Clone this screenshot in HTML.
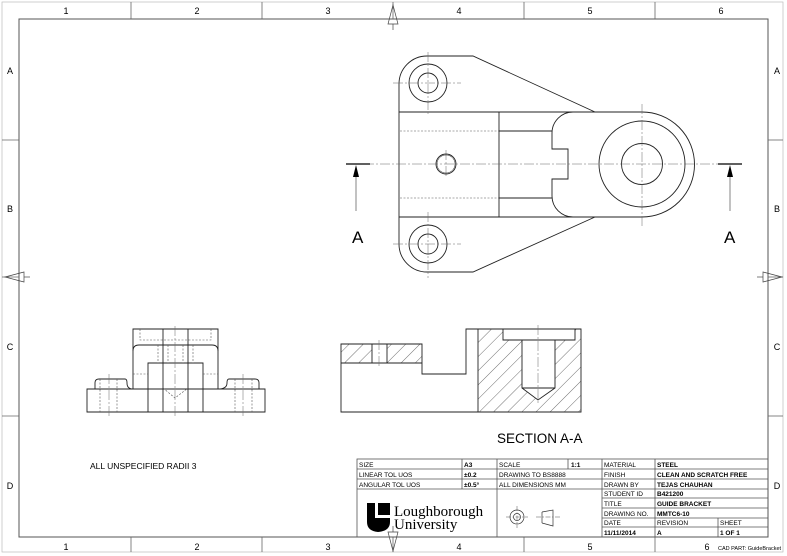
<!DOCTYPE html>
<html><head><meta charset="utf-8"><style>
html,body{margin:0;padding:0;background:#fff}
svg{display:block}
text{font-family:"Liberation Sans",sans-serif;fill:#000}
</style></head><body>
<svg width="787" height="556" viewBox="0 0 787 556" xmlns="http://www.w3.org/2000/svg">
<defs>
<pattern id="h" patternUnits="userSpaceOnUse" width="10" height="10" patternTransform="rotate(45)">
<line x1="0" y1="0" x2="0" y2="10" stroke="#333" stroke-width="0.7"/>
</pattern>
</defs>
<rect width="787" height="556" fill="#fff"/>
<!-- frames -->
<rect x="2" y="2" width="781" height="550" fill="none" stroke="#bbb" stroke-width="0.7"/>
<rect x="19" y="19" width="749" height="518" fill="none" stroke="#555" stroke-width="1"/>
<g stroke="#666" stroke-width="0.8">
<line x1="131" y1="2" x2="131" y2="19"/><line x1="262" y1="2" x2="262" y2="19"/><line x1="393" y1="2" x2="393" y2="19"/><line x1="524" y1="2" x2="524" y2="19"/><line x1="655" y1="2" x2="655" y2="19"/>
<line x1="131" y1="537" x2="131" y2="552"/><line x1="262" y1="537" x2="262" y2="552"/><line x1="393" y1="537" x2="393" y2="552"/><line x1="524" y1="537" x2="524" y2="552"/><line x1="655" y1="537" x2="655" y2="552"/>
<line x1="2" y1="140" x2="19" y2="140"/><line x1="2" y1="277" x2="19" y2="277"/><line x1="2" y1="416" x2="19" y2="416"/>
<line x1="768" y1="140" x2="783" y2="140"/><line x1="768" y1="277" x2="783" y2="277"/><line x1="768" y1="416" x2="783" y2="416"/>
</g>
<g fill="none" stroke="#444" stroke-width="0.7">
<path d="M393 5 L388 24 L398 24 Z"/><line x1="393" y1="24" x2="393" y2="30"/>
<path d="M393 551 L388 532 L398 532 Z"/><line x1="393" y1="532" x2="393" y2="526"/>
<path d="M5 277 L24 272 L24 282 Z"/><line x1="24" y1="277" x2="30" y2="277"/>
<path d="M782 277 L763 272 L763 282 Z"/><line x1="763" y1="277" x2="757" y2="277"/>
</g>
<g font-size="9" text-anchor="middle">
<text x="66" y="14">1</text><text x="197" y="14">2</text><text x="328" y="14">3</text><text x="459" y="14">4</text><text x="590" y="14">5</text><text x="721" y="14">6</text>
<text x="66" y="550">1</text><text x="197" y="550">2</text><text x="328" y="550">3</text><text x="459" y="550">4</text><text x="590" y="550">5</text><text x="707" y="550">6</text>
<text x="10" y="74">A</text><text x="10" y="212">B</text><text x="10" y="350">C</text><text x="10" y="489">D</text>
<text x="777" y="74">A</text><text x="777" y="212">B</text><text x="777" y="350">C</text><text x="777" y="489">D</text>
</g>
<text x="718" y="550" font-size="5.5">CAD PART: GuideBracket</text>

<!-- TOP VIEW -->
<g fill="none" stroke="#222" stroke-width="0.9">
<path d="M399 112 L399 84 A28 28 0 0 1 427 56 L473 56 L595 112"/>
<path d="M399 217 L399 244 A28 28 0 0 0 427 272 L473 272 L595 217"/>
<line x1="399" y1="112" x2="399" y2="217"/>
<line x1="399" y1="112" x2="642" y2="112"/>
<line x1="399" y1="217" x2="642" y2="217"/>
<path d="M642 112 A52.5 52.5 0 0 1 642 217"/>
<circle cx="642" cy="164" r="43"/>
<circle cx="642" cy="164" r="20.5"/>
<line x1="499" y1="112" x2="499" y2="217"/>
<line x1="499" y1="131" x2="552" y2="131"/>
<line x1="499" y1="198" x2="552" y2="198"/>
<path d="M573 112 A21 21 0 0 0 552 133 L552 149 L568 149 L568 179 L552 179 L552 196 A21 21 0 0 0 573 217"/>
<circle cx="428" cy="83" r="19"/><circle cx="428" cy="83" r="10"/>
<circle cx="428" cy="244" r="19"/><circle cx="428" cy="244" r="10"/>
<circle cx="446" cy="164" r="10"/><circle cx="446" cy="164" r="9" stroke-width="0.5"/>
</g>
<g fill="none" stroke="#555" stroke-width="0.6" stroke-dasharray="2,1.5">
<line x1="400" y1="131" x2="499" y2="131"/><line x1="400" y1="198" x2="499" y2="198"/>
</g>
<g fill="none" stroke="#666" stroke-width="0.5" stroke-dasharray="10,2,2,2">
<line x1="348" y1="164" x2="742" y2="164"/>
<line x1="642" y1="104" x2="642" y2="226"/>
<line x1="428" y1="52" x2="428" y2="116"/><line x1="393" y1="83" x2="461" y2="83"/>
<line x1="428" y1="212" x2="428" y2="278"/><line x1="393" y1="244" x2="461" y2="244"/>
<line x1="446" y1="150" x2="446" y2="178"/>
</g>
<g stroke="#000" stroke-width="1.2">
<line x1="346" y1="164" x2="370" y2="164"/><line x1="718" y1="164" x2="742" y2="164"/>
</g>
<g stroke="#333" stroke-width="0.6">
<line x1="356" y1="170" x2="356" y2="211"/><line x1="730" y1="170" x2="730" y2="211"/>
</g>
<path d="M356 165 L353 177 L359 177 Z M730 165 L727 177 L733 177 Z" fill="#000"/>
<text x="352" y="243" font-size="17">A</text>
<text x="724" y="243" font-size="17">A</text>

<!-- FRONT VIEW -->
<g fill="none" stroke="#222" stroke-width="0.9">
<path d="M87 389 L87 412 L265 412 L265 389 Z"/>
<path d="M95 389 L95 383 Q95 379 99 379 L125 379 Q127 379 127 383 Q127 389 133 389"/>
<path d="M259 389 L259 383 Q259 379 255 379 L229 379 Q227 379 227 383 Q227 389 218 389"/>
<path d="M133 389 L133 329 L218 329 L218 389"/>
<path d="M133 351 Q133 345 139 345 L212 345 Q218 345 218 351"/>
<path d="M148 412 L148 363 L203 363 L203 412"/>
<line x1="163" y1="329" x2="163" y2="412"/><line x1="188" y1="329" x2="188" y2="412"/>
</g>
<g fill="none" stroke="#555" stroke-width="0.6" stroke-dasharray="2,1.5">
<path d="M140 329 L140 340 L211 340 L211 329"/>
<line x1="133" y1="374" x2="148" y2="374"/><line x1="203" y1="374" x2="218" y2="374"/>
<line x1="158" y1="345" x2="158" y2="363"/><line x1="168" y1="345" x2="168" y2="363"/>
<line x1="183" y1="345" x2="183" y2="363"/><line x1="193" y1="345" x2="193" y2="363"/>
<path d="M163 388 L175 398 L188 388"/>
<line x1="100" y1="379" x2="100" y2="412"/><line x1="117" y1="379" x2="117" y2="412"/>
<line x1="235" y1="379" x2="235" y2="412"/><line x1="252" y1="379" x2="252" y2="412"/>
</g>
<g fill="none" stroke="#666" stroke-width="0.5" stroke-dasharray="10,2,2,2">
<line x1="175" y1="326" x2="175" y2="416"/><line x1="109" y1="374" x2="109" y2="416"/><line x1="243" y1="374" x2="243" y2="416"/>
</g>

<!-- SECTION VIEW -->
<rect x="341" y="344" width="31" height="19" fill="url(#h)"/>
<rect x="387" y="344" width="35" height="19" fill="url(#h)"/>
<path d="M478 329 L503 329 L503 340 L522 340 L522 388 L538 400 L555 388 L555 340 L575 340 L575 329 L581 329 L581 412 L478 412 Z" fill="url(#h)"/>
<g fill="none" stroke="#222" stroke-width="0.9">
<path d="M341 344 L422 344 L422 374 L466 374 L466 329 L581 329 L581 412 L341 412 Z"/>
<line x1="341" y1="363" x2="422" y2="363"/>
<line x1="372" y1="344" x2="372" y2="363"/><line x1="387" y1="344" x2="387" y2="363"/>
<line x1="478" y1="329" x2="478" y2="412"/>
<path d="M503 329 L503 340 L575 340 L575 329"/>
<path d="M522 340 L522 388 L538 400 L555 388 L555 340"/>
<line x1="522" y1="388" x2="555" y2="388"/>
</g>
<g fill="none" stroke="#666" stroke-width="0.5" stroke-dasharray="10,2,2,2">
<line x1="379" y1="340" x2="379" y2="368"/><line x1="538" y1="325" x2="538" y2="404"/>
</g>
<text x="497" y="443" font-size="13.5">SECTION A-A</text>
<text x="90" y="469" font-size="8.5">ALL UNSPECIFIED RADII 3</text>

<!-- TITLE BLOCK -->
<g fill="none" stroke="#555" stroke-width="0.8">
<rect x="357" y="459" width="411" height="78"/>
<line x1="357" y1="469" x2="768" y2="469"/>
<line x1="357" y1="479" x2="768" y2="479"/>
<line x1="357" y1="489" x2="768" y2="489"/>
<line x1="602" y1="498" x2="768" y2="498"/>
<line x1="602" y1="508" x2="768" y2="508"/>
<line x1="602" y1="518" x2="768" y2="518"/>
<line x1="602" y1="527" x2="768" y2="527"/>
<line x1="462" y1="459" x2="462" y2="489"/>
<line x1="497" y1="459" x2="497" y2="537"/>
<line x1="568" y1="459" x2="568" y2="469"/>
<line x1="602" y1="459" x2="602" y2="537"/>
<line x1="655" y1="459" x2="655" y2="537"/>
<line x1="718" y1="518" x2="718" y2="537"/>
</g>
<g font-size="6.5" fill="#222">
<text x="359" y="467">SIZE</text><text x="359" y="477">LINEAR TOL UOS</text><text x="359" y="487">ANGULAR TOL UOS</text>
<text x="464" y="467" font-weight="bold">A3</text><text x="464" y="477" font-weight="bold">±0.2</text><text x="464" y="487" font-weight="bold">±0.5°</text>
<text x="499" y="467">SCALE</text><text x="571" y="467" font-weight="bold">1:1</text>
<text x="499" y="477">DRAWING TO BS8888</text><text x="499" y="487">ALL DIMENSIONS MM</text>
<text x="604" y="467">MATERIAL</text><text x="604" y="477">FINISH</text><text x="604" y="487">DRAWN BY</text>
<text x="604" y="496">STUDENT ID</text><text x="604" y="506">TITLE</text><text x="604" y="516">DRAWING NO.</text><text x="604" y="525">DATE</text>
<text x="604" y="535" font-weight="bold">11/11/2014</text>
<g font-weight="bold">
<text x="657" y="467">STEEL</text><text x="657" y="477">CLEAN AND SCRATCH FREE</text><text x="657" y="487">TEJAS CHAUHAN</text>
<text x="657" y="496">B421200</text><text x="657" y="506">GUIDE BRACKET</text><text x="657" y="516">MMTC6-10</text>
<text x="657" y="535">A</text><text x="720" y="535">1 OF 1</text>
</g>
<text x="657" y="525">REVISION</text><text x="720" y="525">SHEET</text>
</g>
<!-- logo -->
<path d="M367 503 L375 503 L375 518 L390 518 L390 522 Q390 531 378 532 Q367 531 367 522 Z" fill="#000"/>
<rect x="378" y="503" width="12" height="12" fill="#000"/>
<text x="394" y="516" font-size="15" style="font-family:'Liberation Serif',serif">Loughborough</text>
<text x="394" y="529" font-size="15" style="font-family:'Liberation Serif',serif">University</text>
<!-- projection symbol -->
<g fill="none" stroke="#333" stroke-width="0.7">
<circle cx="517" cy="517" r="7"/><circle cx="517" cy="517" r="3.5"/>
<path d="M542 512 L553 510 L553 526 L542 523"/>
<line x1="542" y1="512" x2="542" y2="523"/>
</g>
<g stroke="#555" stroke-width="0.5" stroke-dasharray="5,1.5,1.5,1.5" fill="none">
<line x1="506" y1="517" x2="528" y2="517"/><line x1="517" y1="506" x2="517" y2="528"/>
<line x1="536" y1="517" x2="560" y2="517"/>
</g>
</svg>
</body></html>
